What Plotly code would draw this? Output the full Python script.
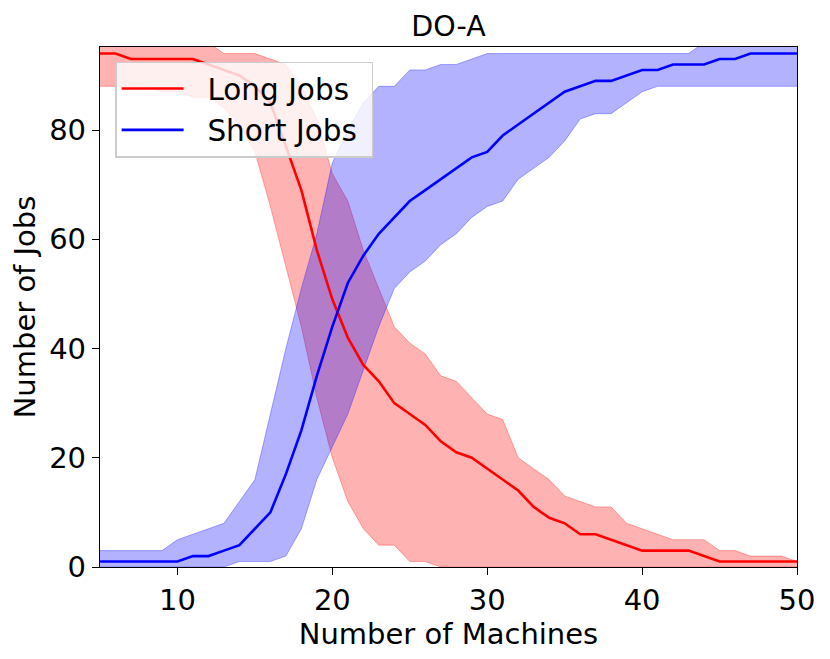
import plotly.graph_objects as go

machines = list(range(5, 51))

long_mean = [94, 94, 93, 93, 93, 93, 93, 92, 91, 90, 88, 85, 77, 69, 58, 49, 42, 37, 34, 30,
             28, 26, 23, 21, 20, 18, 16, 14, 11, 9, 8, 6, 6, 5, 4, 3, 3, 3, 3, 2,
             1, 1, 1, 1, 1, 1]
long_hi = [96, 96, 96, 96, 96, 96, 96, 96, 94, 94, 94, 93, 92, 88, 82, 72, 67, 58, 51, 44,
           41, 39, 35, 34, 31, 28, 27, 20, 18, 16, 13, 12, 11, 11, 8, 7, 6, 5, 5, 5,
           3, 3, 2, 2, 2, 1]
long_lo = [88, 88, 88, 88, 87, 87, 86, 86, 84, 81, 76, 66, 55, 44, 31, 20, 12, 7, 4, 4,
           1, 1, 0, 0, 0, 0, 0, 0, 0, 0, 0, 0, 0, 0, 0, 0, 0, 0, 0, 0,
           0, 0, 0, 0, 0, 0]

short_mean = [1, 1, 1, 1, 1, 1, 2, 2, 3, 4, 7, 10, 17, 25, 35, 44, 52, 57, 61, 64,
              67, 69, 71, 73, 75, 76, 79, 81, 83, 85, 87, 88, 89, 89, 90, 91, 91, 92, 92, 92,
              93, 93, 94, 94, 94, 94]
short_hi = [3, 3, 3, 3, 3, 5, 6, 7, 8, 12, 16, 28, 40, 51, 61, 74, 80, 85, 88, 88,
            91, 91, 92, 92, 93, 94, 94, 94, 94, 94, 94, 94, 94, 94, 94, 94, 94, 94, 94, 96,
            96, 96, 96, 96, 96, 96]
short_lo = [0, 0, 0, 0, 0, 0, 0, 0, 0, 1, 1, 1, 2, 7, 16, 22, 28, 36, 44, 51,
            54, 56, 59, 61, 64, 66, 67, 71, 73, 75, 78, 82, 83, 83, 85, 87, 88, 88, 88, 88,
            88, 88, 88, 88, 88, 88]

x_ticks = [10, 20, 30, 40, 50]
y_ticks = [0, 20, 40, 60, 80]

FONT = "DejaVu Sans"
RED_BAND = "rgba(255,0,0,0.3)"
BLUE_BAND = "rgba(0,0,255,0.3)"
NB = "\u00a0\u00a0"

fig = go.Figure()

# bands (drawn first, beneath lines)
fig.add_trace(go.Scatter(x=machines, y=long_hi, mode="lines",
                         line=dict(color=RED_BAND, width=1), showlegend=False, hoverinfo="skip"))
fig.add_trace(go.Scatter(x=machines, y=long_lo, mode="lines", fill="tonexty", fillcolor=RED_BAND,
                         line=dict(color=RED_BAND, width=1), showlegend=False, hoverinfo="skip"))
fig.add_trace(go.Scatter(x=machines, y=short_hi, mode="lines",
                         line=dict(color=BLUE_BAND, width=1), showlegend=False, hoverinfo="skip"))
fig.add_trace(go.Scatter(x=machines, y=short_lo, mode="lines", fill="tonexty", fillcolor=BLUE_BAND,
                         line=dict(color=BLUE_BAND, width=1), showlegend=False, hoverinfo="skip"))

# mean lines
fig.add_trace(go.Scatter(x=machines, y=long_mean, mode="lines", name=NB + "Long Jobs",
                         line=dict(color="#ff0000", width=2.6), legendgroup="a"))
fig.add_trace(go.Scatter(x=machines, y=short_mean, mode="lines", name=NB + "Short Jobs\u00a0",
                         line=dict(color="#0000ff", width=2.6), legendgroup="b"))

axis_common = dict(
    showline=True, linecolor="black", linewidth=1.3, mirror=True,
    ticks="outside", ticklen=7, tickwidth=1.3, tickcolor="black",
    showgrid=False, zeroline=False,
    tickfont=dict(family=FONT, size=29, color="black"),
)

W, H = 822, 651
fig.update_layout(
    width=W, height=H,
    margin=dict(l=92, r=33, t=39, b=92),
    paper_bgcolor="white", plot_bgcolor="white",
    font=dict(family=FONT, size=29, color="black"),
    title=dict(text="DO-A", x=0.5, xref="paper", xanchor="center",
               y=1 - 18 / H, yref="container", yanchor="middle",
               font=dict(family=FONT, size=28.5, color="black")),
    xaxis=dict(range=[5, 50], tickvals=x_ticks,
               title=dict(text="Number of Machines", standoff=4,
                          font=dict(family=FONT, size=29, color="black")),
               **axis_common),
    yaxis=dict(range=[0, 95.2], tickvals=y_ticks,
               title=dict(text="Number of Jobs", standoff=8,
                          font=dict(family=FONT, size=29, color="black")),
               **axis_common),
    legend=dict(x=0.022, y=0.972, xanchor="left", yanchor="top",
                bgcolor="rgba(255,255,255,0.8)", bordercolor="#cccccc", borderwidth=1.3,
                font=dict(family=FONT, size=29.5, color="black"),
                itemwidth=62, tracegroupgap=6, traceorder="normal"),
)

fig.write_html("out.html")
